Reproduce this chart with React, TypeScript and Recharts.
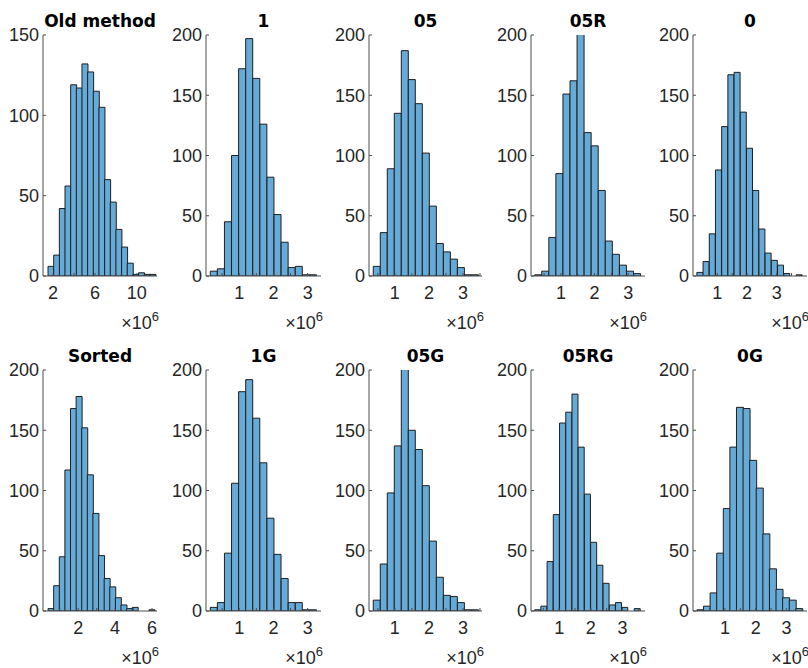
import { BarChart, Bar, XAxis, YAxis } from "recharts";

// histogram counts per subplot
const oldMethod = [6, 13, 42, 56, 119, 117, 132, 127, 115, 105, 60, 46, 29, 18, 8, 1, 2, 1, 1];
const one = [4, 6, 45, 100, 172, 197, 164, 126, 82, 51, 28, 7, 8, 1, 1];
const o5 = [8, 36, 89, 135, 187, 163, 143, 102, 58, 27, 20, 14, 7, 1, 1];
const o5R = [1, 4, 32, 85, 151, 162, 205, 119, 108, 71, 29, 18, 9, 4, 2];
const zero = [3, 12, 35, 88, 124, 167, 169, 136, 106, 71, 39, 19, 13, 9, 2, 0, 1];
const sorted = [2, 21, 45, 117, 168, 178, 152, 113, 81, 46, 27, 20, 11, 5, 2, 3, 0, 0, 1];
const oneG = [3, 7, 48, 106, 182, 192, 160, 123, 77, 47, 27, 7, 7, 1, 1];
const o5G = [9, 39, 98, 137, 205, 150, 134, 104, 58, 28, 13, 12, 7, 1, 1];
const o5RG = [1, 4, 41, 80, 156, 165, 180, 136, 97, 57, 38, 23, 5, 7, 3, 0, 2];
const zeroG = [1, 4, 15, 48, 85, 136, 169, 168, 125, 102, 64, 35, 18, 11, 9, 2];

// bin edges (x10^6)
const binStarts = [1.52, 0.155, 0.365, 0.22, 0.31, 0.365, 0.155, 0.365, 0.225, 0.088];
const binWidths = [0.54, 0.207, 0.206, 0.21, 0.209, 0.304, 0.207, 0.206, 0.1965, 0.2145];

const titles = ["Old method", "1", "05", "05R", "0", "Sorted", "1G", "05G", "05RG", "0G"];
const allCounts = [oldMethod, one, o5, o5R, zero, sorted, oneG, o5G, o5RG, zeroG];

const xDomains: [number, number][] = [
  [1.04, 11.92], [0.03, 3.39], [0.24, 3.56], [0.11, 3.5], [0.18, 4.02],
  [0.09, 6.27], [0.03, 3.39], [0.24, 3.56], [0.11, 3.71], [-0.04, 3.67],
];
const halfTicks = [0.5, 1, 1.5, 2, 2.5, 3];
const xTicksList = [
  [2, 4, 6, 8, 10], halfTicks, [...halfTicks, 3.5], halfTicks, [...halfTicks, 3.5],
  [1, 2, 3, 4, 5, 6], halfTicks, [...halfTicks, 3.5], [...halfTicks, 3.5], [...halfTicks, 3.5],
];
const xLabelsList = [
  [2, 6, 10], [1, 2, 3], [1, 2, 3], [1, 2, 3], [1, 2, 3],
  [2, 4, 6], [1, 2, 3], [1, 2, 3], [1, 2, 3], [1, 2, 3],
];
const yTicks150 = [0, 50, 100, 150];
const yTicks200 = [0, 50, 100, 150, 200];

const plotLefts = [43, 206, 369, 531, 693];
const plotWidths = [114, 115, 113, 114, 114];
const rowTops = [35, 370];
const PLOT_H = 241;

const FONT = "'Liberation Sans', Arial, sans-serif";
const TITLE_FONT = "'DejaVu Sans', sans-serif";
const TICK_SIZE = 18;
const AXIS = "#4d4d4d";
const TXT = "#262626";
const FILL = "#66aad7";
const EDGE = "#1f1f1f";

const YTick = (props: any) => {
  const { x, y, payload } = props;
  return (
    <text x={x} y={y} dy="0.36em" textAnchor="end" fontSize={TICK_SIZE} fontFamily={FONT} fill={TXT}>
      {payload.value}
    </text>
  );
};

function Hist({ idx }: { idx: number }) {
  const col = idx % 5;
  const row = Math.floor(idx / 5);
  const left = plotLefts[col];
  const top = rowTops[row];
  const w = plotWidths[col];
  const yMax = idx === 0 ? 150 : 200;
  const yTicks = idx === 0 ? yTicks150 : yTicks200;
  const labels = xLabelsList[idx];
  const data = allCounts[idx].map((c, i) => ({
    x: binStarts[idx] + binWidths[idx] * (i + 0.5),
    count: c,
  }));

  const XTick = (props: any) => {
    const { x, y, payload } = props;
    if (!labels.includes(payload.value)) return null;
    return (
      <text x={x} y={y} dy="0.72em" textAnchor="middle" fontSize={TICK_SIZE} fontFamily={FONT} fill={TXT}>
        {payload.value}
      </text>
    );
  };

  return (
    <>
      <div style={{ position: "absolute", left: left - 43, top: top - 35 }}>
        <BarChart
          width={43 + w + 1}
          height={35 + PLOT_H + 40}
          data={data}
          margin={{ top: 35, right: 1, bottom: 0, left: 0 }}
          barCategoryGap={0}
          barGap={0}
        >
          <XAxis
            xAxisId="b"
            dataKey="x"
            type="number"
            domain={xDomains[idx]}
            ticks={xTicksList[idx]}
            allowDataOverflow
            interval={0}
            height={40}
            tickSize={-3}
            tickMargin={13}
            stroke={AXIS}
            tick={<XTick />}
          />
          <XAxis
            xAxisId="t"
            orientation="top"
            dataKey="x"
            type="number"
            domain={xDomains[idx]}
            ticks={xTicksList[idx]}
            allowDataOverflow
            interval={0}
            height={0}
            tickSize={-3}
            tick={false}
            stroke={AXIS}
          />
          <YAxis
            yAxisId="l"
            type="number"
            domain={[0, yMax]}
            ticks={yTicks}
            allowDataOverflow
            interval={0}
            width={43}
            tickSize={-3}
            tickMargin={7}
            stroke={AXIS}
            tick={<YTick />}
          />
          <YAxis
            yAxisId="r"
            orientation="right"
            type="number"
            domain={[0, yMax]}
            ticks={yTicks}
            allowDataOverflow
            interval={0}
            width={0}
            tickSize={-3}
            tick={false}
            stroke={AXIS}
          />
          <Bar
            xAxisId="b"
            yAxisId="l"
            dataKey="count"
            fill={FILL}
            stroke={EDGE}
            strokeWidth={1}
            isAnimationActive={false}
          />
        </BarChart>
      </div>
      <div
        style={{
          position: "absolute",
          left,
          width: w,
          top: top - 22.4,
          textAlign: "center",
          fontFamily: TITLE_FONT,
          fontWeight: "bold",
          fontSize: 17,
          lineHeight: "17px",
          color: "#000",
          whiteSpace: "nowrap",
        }}
      >
        {titles[idx]}
      </div>
      <div
        style={{
          position: "absolute",
          left: left + w - 70,
          width: 72,
          top: top + PLOT_H + 38,
          textAlign: "right",
          fontFamily: FONT,
          fontSize: 18,
          lineHeight: "18px",
          color: TXT,
          whiteSpace: "nowrap",
        }}
      >
        ×10
        <span style={{ fontSize: 13, position: "relative", top: -8 }}>6</span>
      </div>
    </>
  );
}

export default function App() {
  return (
    <div
      style={{
        position: "absolute",
        left: 0,
        top: 0,
        width: 808,
        height: 668,
        background: "#fff",
        overflow: "hidden",
      }}
    >
      {titles.map((_, i) => (
        <Hist key={i} idx={i} />
      ))}
    </div>
  );
}
